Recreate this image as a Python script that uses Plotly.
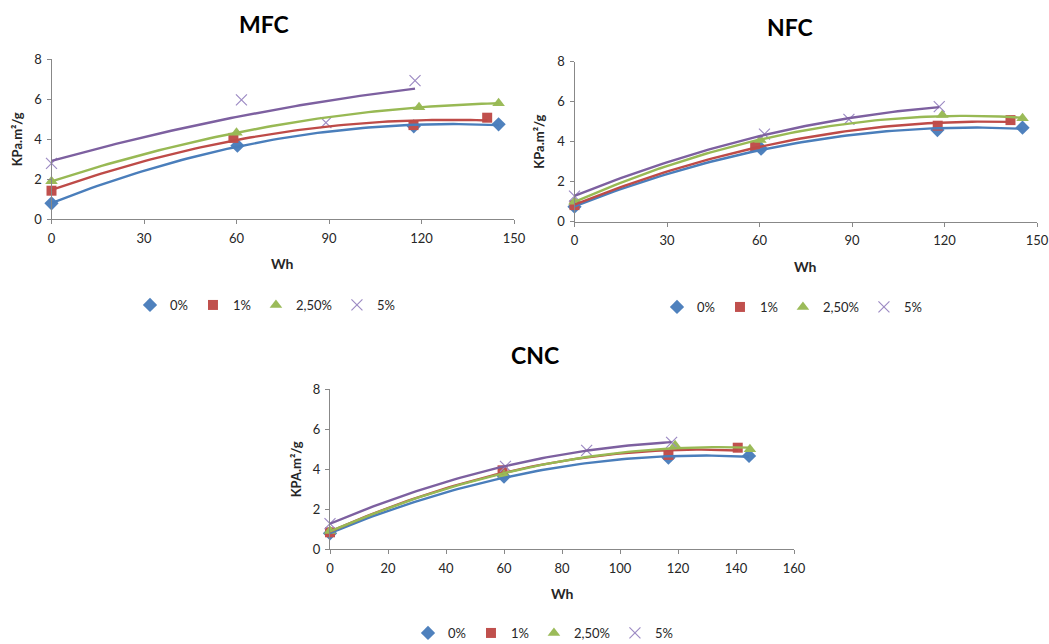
import numpy as np
import plotly.graph_objects as go

# ---------------- data ----------------
series_labels = ["0%", "1%", "2,50%", "5%"]
panel_titles = ["MFC", "NFC", "CNC"]
y_titles = ["KPa.m²/g", "KPa.m²/g", "KPA.m²/g"]
x_title = "Wh"

# MFC
mfc_x_0 = [0, 60.3, 117.5, 145]
mfc_y_0 = [0.80, 3.68, 4.65, 4.75]
mfc_x_1 = [0, 59, 117.4, 141.3]
mfc_y_1 = [1.43, 4.07, 4.71, 5.08]
mfc_x_25 = [0, 60, 119.2, 145]
mfc_y_25 = [1.90, 4.33, 5.60, 5.80]
mfc_x_5 = [0, 61.6, 89, 117.9]
mfc_y_5 = [2.80, 5.97, 4.83, 6.93]

# NFC
nfc_x_0 = [0, 60.5, 117.7, 145.3]
nfc_y_0 = [0.75, 3.65, 4.58, 4.70]
nfc_x_1 = [0, 58.6, 117.8, 141.4]
nfc_y_1 = [0.83, 3.78, 4.80, 5.08]
nfc_x_25 = [0, 60.3, 119.3, 145.3]
nfc_y_25 = [1.00, 4.08, 5.33, 5.17]
nfc_x_5 = [0, 61.6, 89, 118.3]
nfc_y_5 = [1.28, 4.38, 5.12, 5.75]

# CNC
cnc_x_0 = [0, 60, 116.7, 144.5]
cnc_y_0 = [0.80, 3.63, 4.58, 4.67]
cnc_x_1 = [0, 59.5, 116.7, 140.6]
cnc_y_1 = [0.85, 3.95, 4.72, 5.08]
cnc_x_25 = [0, 60, 119, 144.8]
cnc_y_25 = [0.92, 3.72, 5.20, 5.00]
cnc_x_5 = [0, 60.5, 88.5, 117.8]
cnc_y_5 = [1.28, 4.15, 4.95, 5.35]

mfc_xticks = [0, 30, 60, 90, 120, 150]
nfc_xticks = [0, 30, 60, 90, 120, 150]
cnc_xticks = [0, 20, 40, 60, 80, 100, 120, 140, 160]
y_ticks = [0, 2, 4, 6, 8]

# ---------------- styles / layout helpers ----------------
W, H = 1049, 644


def fx(px):
    return px / W


def fy(py):
    return 1 - py / H


FONT = "Lato, 'Open Sans', sans-serif"
TXT = "#262626"
AXIS = "#888888"

marker_styles = [
    dict(symbol="diamond", size=11, color="#4F81BD"),
    dict(symbol="square", size=10, color="#C0504D"),
    dict(symbol="triangle-up", size=11, color="#9BBB59"),
    dict(symbol="x-thin", size=11, color="#9D8BC4", line=dict(width=1.2, color="#9D8BC4")),
]
line_colors = ["#4A7EBB", "#BE4B48", "#98B954", "#7D60A0"]

panels = [
    dict(series=[(mfc_x_0, mfc_y_0), (mfc_x_1, mfc_y_1), (mfc_x_25, mfc_y_25), (mfc_x_5, mfc_y_5)],
         xticks=mfc_xticks, xrange=[0, 150],
         px=(51.5, 514), py=(59.3, 219.3), title_xy=(264, 24), legend_xy=(265, 305),
         ytitle_x=17, xtitle_y=263),
    dict(series=[(nfc_x_0, nfc_y_0), (nfc_x_1, nfc_y_1), (nfc_x_25, nfc_y_25), (nfc_x_5, nfc_y_5)],
         xticks=nfc_xticks, xrange=[0, 150],
         px=(574.5, 1037), py=(61.7, 221.7), title_xy=(790, 27), legend_xy=(792, 307),
         ytitle_x=539, xtitle_y=266),
    dict(series=[(cnc_x_0, cnc_y_0), (cnc_x_1, cnc_y_1), (cnc_x_25, cnc_y_25), (cnc_x_5, cnc_y_5)],
         xticks=cnc_xticks, xrange=[0, 160],
         px=(330, 794), py=(389.3, 549.3), title_xy=(535, 355), legend_xy=(543, 633),
         ytitle_x=296, xtitle_y=593),
]

fig = go.Figure()
annotations = []
layout = dict(
    width=W, height=H, margin=dict(l=0, r=0, t=0, b=0, autoexpand=False),
    paper_bgcolor="white", plot_bgcolor="white",
    font=dict(family=FONT, size=13, color=TXT),
    showlegend=True,
)

for p_i, p in enumerate(panels):
    sfx = "" if p_i == 0 else str(p_i + 1)
    xa, ya = "x" + sfx, "y" + sfx
    leg = "legend" + sfx
    # markers
    for s_i, (xs, ys) in enumerate(p["series"]):
        fig.add_trace(go.Scatter(
            x=xs, y=ys, mode="markers", name=series_labels[s_i],
            marker=marker_styles[s_i], xaxis=xa, yaxis=ya, legend=leg,
            cliponaxis=False, hoverinfo="x+y+name",
        ))
    # polynomial (order 2) trendlines fitted to each series
    for s_i, (xs, ys) in enumerate(p["series"]):
        coef = np.polyfit(xs, ys, 2)
        xf = np.linspace(min(xs), max(xs), 80)
        yf = np.polyval(coef, xf)
        fig.add_trace(go.Scatter(
            x=xf, y=yf, mode="lines", showlegend=False,
            line=dict(color=line_colors[s_i], width=2.4),
            xaxis=xa, yaxis=ya, cliponaxis=False, hoverinfo="skip",
        ))
    x0, x1 = p["px"]
    ytop, ybot = p["py"]
    layout["xaxis" + sfx] = dict(
        domain=[fx(x0), fx(x1)], range=p["xrange"], anchor=ya,
        tickvals=p["xticks"], ticks="outside", ticklen=4, tickcolor=AXIS,
        showline=True, linecolor=AXIS, linewidth=1, showgrid=False, zeroline=False,
        tickfont=dict(size=13, color=TXT, family=FONT), fixedrange=True,
        automargin=False, ticklabelstandoff=3,
    )
    layout["yaxis" + sfx] = dict(
        domain=[fy(ybot), fy(ytop)], range=[0, 8], anchor=xa,
        tickvals=y_ticks, ticks="outside", ticklen=4, tickcolor=AXIS,
        showline=True, linecolor=AXIS, linewidth=1, showgrid=False, zeroline=False,
        tickfont=dict(size=13, color=TXT, family=FONT), fixedrange=True,
        automargin=False, ticklabelstandoff=2,
    )
    lx, ly = p["legend_xy"]
    layout[leg] = dict(
        orientation="h", x=fx(lx), xanchor="center", y=fy(ly), yanchor="middle",
        font=dict(size=13, color=TXT, family=FONT), bgcolor="rgba(0,0,0,0)",
        itemwidth=30, tracegroupgap=0,
    )
    tx, ty = p["title_xy"]
    annotations.append(dict(text="<b>" + panel_titles[p_i] + "</b>", x=fx(tx), y=fy(ty),
                            xref="paper", yref="paper", showarrow=False,
                            xanchor="center", yanchor="middle",
                            font=dict(size=23, color="#000000", family=FONT)))
    annotations.append(dict(text="<b>" + x_title + "</b>", x=fx((x0 + x1) / 2), y=fy(p["xtitle_y"]),
                            xref="paper", yref="paper", showarrow=False,
                            xanchor="center", yanchor="middle",
                            font=dict(size=14, color=TXT, family=FONT)))
    annotations.append(dict(text="<b>" + y_titles[p_i] + "</b>", x=fx(p["ytitle_x"]),
                            y=fy((ytop + ybot) / 2), textangle=-90,
                            xref="paper", yref="paper", showarrow=False,
                            xanchor="center", yanchor="middle",
                            font=dict(size=13, color=TXT, family=FONT)))

layout["annotations"] = annotations
fig.update_layout(**layout)
# remove the browser's default 8px body margin so the figure fills the window exactly
fig.write_html("out.html", config={"displayModeBar": False},
               post_script="document.body.style.margin='0';document.body.style.overflow='hidden';")
